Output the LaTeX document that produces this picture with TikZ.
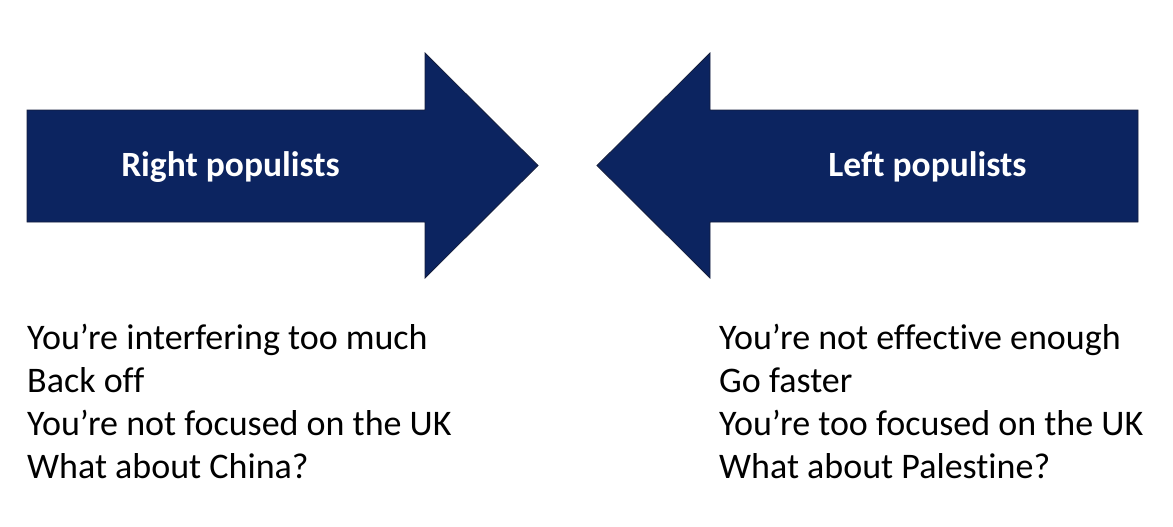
\documentclass[tikz,border=0pt]{standalone}
\usepackage{fontspec}
\setmainfont[Ligatures=NoCommon]{Carlito}
\definecolor{navy}{RGB}{12,36,96}
\definecolor{navyline}{RGB}{20,30,60}
\begin{document}
\begin{tikzpicture}[x=1pt,y=-1pt,
  arrowshape/.style={fill=navy,draw=navyline,line width=0.8pt,line join=miter},
  arrowlabel/.style={text=white,font=\bfseries\fontsize{35.5}{40}\selectfont,inner sep=0pt,anchor=base},
  listtext/.style={font=\fontsize{36}{43}\selectfont,align=left,anchor=base west,inner sep=0pt}]
\useasboundingbox (0,0) rectangle (1173,527);
\fill[white] (0,0) rectangle (1173,527);
% right-pointing arrow
\draw[arrowshape] (27,110) -- (425,110) -- (425,53) -- (538,165.5) -- (425,278) -- (425,222) -- (27,222) -- cycle;
% left-pointing arrow
\draw[arrowshape] (1138,110) -- (710,110) -- (710,53) -- (597,165.5) -- (710,278) -- (710,222) -- (1138,222) -- cycle;
\node[arrowlabel] (rp) at (230.5,176) {Right populists};
\node[arrowlabel] (lp) at (927.5,176) {Left populists};
% anchor base = baseline of the last line
\node[listtext] (lt) at (27,478) {You’re interfering too much\\Back off\\You’re not focused on the UK\\What about China?};
\node[listtext] (rt) at (719,478) {You’re not effective enough\\Go faster\\You’re too focused on the UK\\What about Palestine?};
\end{tikzpicture}
\end{document}
